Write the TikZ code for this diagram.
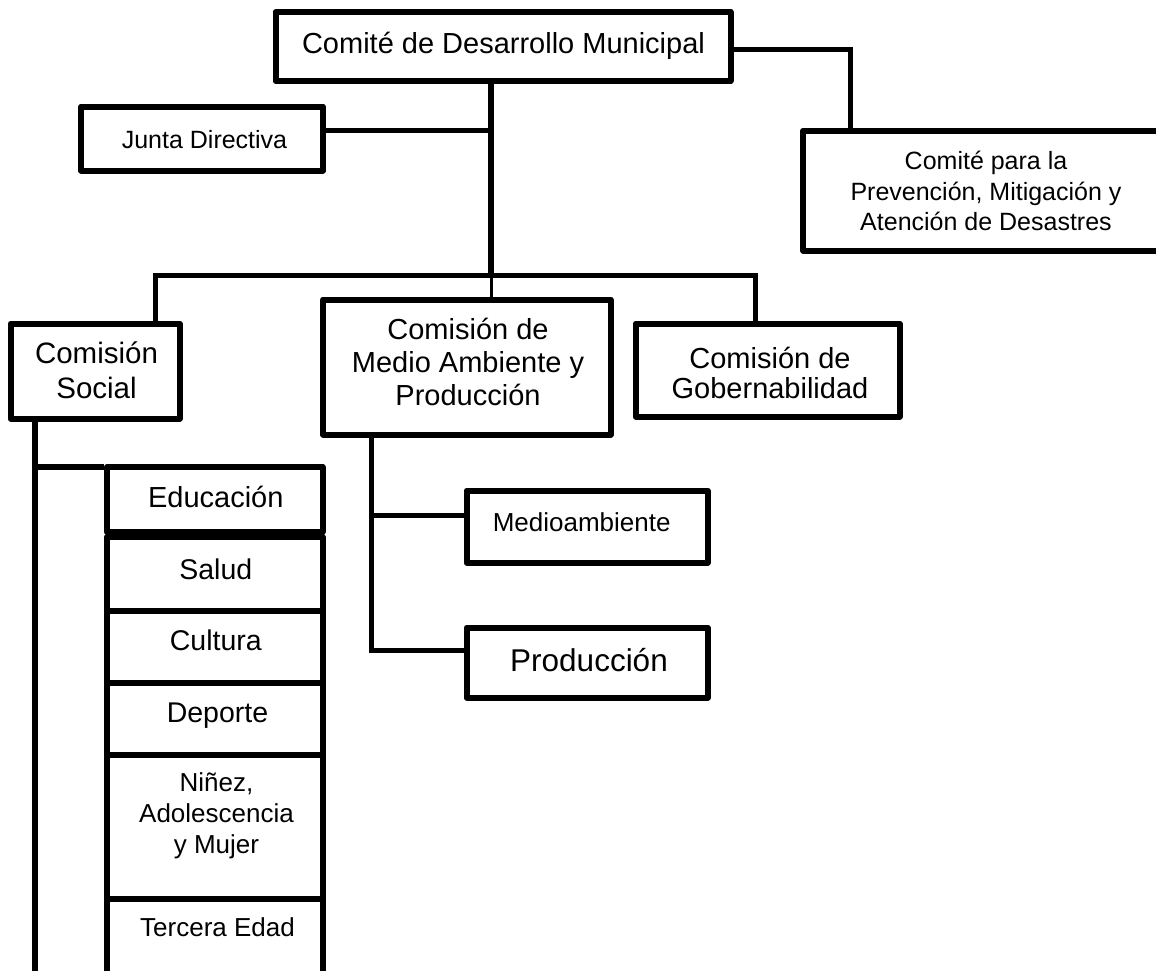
\documentclass[tikz,border=0pt]{standalone}
\usepackage{fontspec}
\setmainfont{Liberation Sans}
\begin{document}
\begin{tikzpicture}[x=1pt,y=-1pt,
  box/.style={draw=black, line width=6pt, line join=round, inner sep=0pt},
  conn/.style={draw=black, line width=5.5pt},
  thinconn/.style={draw=black, line width=3pt},
  txt/.style={anchor=base, inner sep=0pt, font=\fontsize{#1}{#1}\selectfont}]
\path[use as bounding box] (0,0) rectangle (1156,970);
\clip (0,0) rectangle (1156,970);

% boxes
\node[box, minimum width=455pt, minimum height=69pt] (top) at (503,46.5) {};
\node[box, minimum width=242pt, minimum height=64pt] (junta) at (202,138.5) {};
\node[box, minimum width=367pt, minimum height=120pt] (comite) at (986.75,190.5) {};
\node[box, minimum width=169pt, minimum height=95pt] (soc) at (95,371) {};
\node[box, minimum width=287.5pt, minimum height=135pt] (medio) at (466.75,367) {};
\node[box, minimum width=264pt, minimum height=93pt] (gob) at (767.5,370) {};
\node[box, minimum width=241pt, minimum height=72pt] (medamb) at (587,526.5) {};
\node[box, minimum width=241pt, minimum height=70pt] (prod) at (587,662.5) {};
\node[box, minimum width=215.5pt, minimum height=65pt] (edu) at (214.75,499.5) {};
\node[box, minimum width=215.5pt, minimum height=74pt] (salud) at (214.75,574) {};
\node[box, minimum width=215.5pt, minimum height=72pt] (cultura) at (214.75,647) {};
\node[box, minimum width=215.5pt, minimum height=72pt] (deporte) at (214.75,719) {};
\node[box, minimum width=215.5pt, minimum height=144pt] (ninez) at (214.75,827) {};
\node[box, minimum width=215.5pt, minimum height=86pt] (tercera) at (214.75,942) {};

% junction coordinates
\coordinate (jv) at (491,130.5);
\coordinate (bm) at (491,275.5);
\coordinate (bl) at (155.5,275.5);
\coordinate (br) at (755.5,275.5);
\coordinate (rc) at (850.5,49.5);
\coordinate (mc) at (371.5,515.5);
\coordinate (pc) at (371.5,650.5);
\coordinate (sc) at (35,467);
\coordinate (send) at (35,990);

% connectors
\draw[conn] (top.south -| bm) -- (bm);
\draw[thinconn] (bm) -- (medio.north -| bm);
\draw[conn] (jv) -- (jv -| junta.east);
\draw[conn] (soc.north -| bl) -- (bl) -- (br) -- (gob.north -| br);
\draw[conn] (rc -| top.east) -- (rc) -- (rc |- comite.north);
\draw[conn] (medio.south -| pc) -- (pc) -- (pc -| prod.west);
\draw[conn] (mc) -- (mc -| medamb.west);
\draw[conn] (soc.south -| sc) -- (send);
\draw[conn] (sc) -- (sc -| edu.west);

% texts
\node[txt=29] (top-t) at (503.5,53) {Comité de Desarrollo Municipal};
\node[txt=25] (junta-t) at (204.5,148) {Junta Directiva};
\node[txt=25] (comite-t1) at (986,169.5) {Comité para la};
\node[txt=25] (comite-t2) at (986,200) {Prevención, Mitigación y};
\node[txt=25] (comite-t3) at (986,230.5) {Atención de Desastres};
\node[txt=29.5] (soc-t1) at (96.5,363) {Comisión};
\node[txt=29.5] (soc-t2) at (96.5,398) {Social};
\node[txt=29] (medio-t1) at (468,339) {Comisión de};
\node[txt=29] (medio-t2) at (468,372) {Medio Ambiente y};
\node[txt=29] (medio-t3) at (468,405.5) {Producción};
\node[txt=29] (gob-t1) at (770,368.5) {Comisión de};
\node[txt=29] (gob-t2) at (770,398.5) {Gobernabilidad};
\node[txt=26] (medamb-t) at (581.7,531) {Medioambiente};
\node[txt=31.5] (prod-t) at (589,671) {Producción};
\node[txt=29] (edu-t) at (215.8,507) {Educación};
\node[txt=28.5] (salud-t) at (215.8,579.3) {Salud};
\node[txt=28.5] (cultura-t) at (215.8,650.7) {Cultura};
\node[txt=28.5] (deporte-t) at (217.5,722.7) {Deporte};
\node[txt=26] (ninez-t1) at (216.5,791) {Niñez,};
\node[txt=26] (ninez-t2) at (216.5,822) {Adolescencia};
\node[txt=26] (ninez-t3) at (216.5,853) {y Mujer};
\node[txt=26] (tercera-t) at (217.5,936) {Tercera Edad};
\end{tikzpicture}
\end{document}
